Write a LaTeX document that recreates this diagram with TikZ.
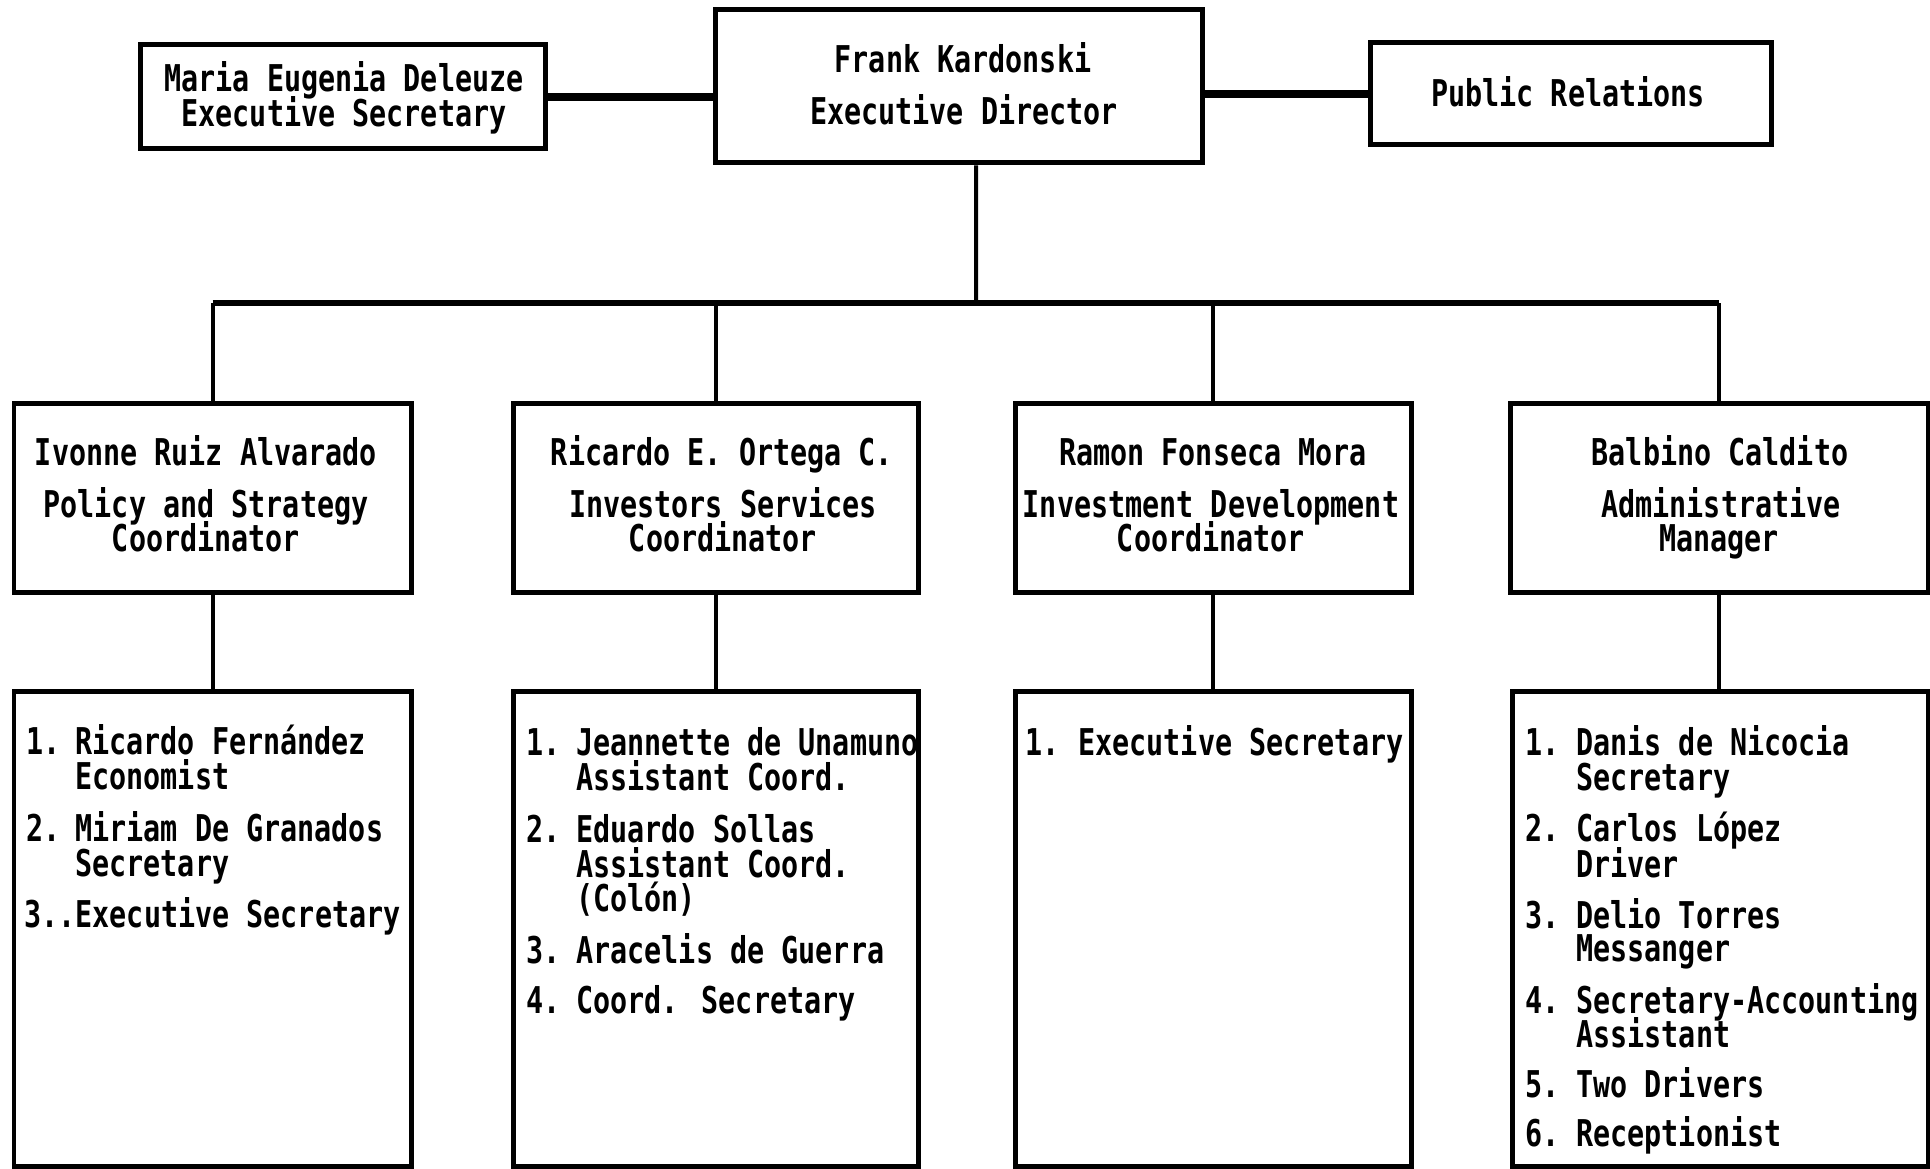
\documentclass[tikz,border=0pt]{standalone}
\usepackage{fontspec}
\setmainfont{DejaVu Sans Mono}[FakeStretch=0.77]
\usetikzlibrary{fit}
\begin{document}
\begin{tikzpicture}[x=0.02cm, y=-0.02cm,
  box/.style={draw, line width=0.1cm, inner sep=0pt},
  txt/.style={inner sep=0pt, font=\fontsize{21}{25}\selectfont\bfseries},
  toplink/.style={line width=0.17cm},
  link/.style={line width=0.08cm},
  buslink/.style={line width=0.11cm}]
\useasboundingbox (0,0) rectangle (1930,1169);

% top row
\node[box, fit={(140,45) (545,149)}] (maria) {};
\node[box, fit={(715,10) (1202,163)}] (frank) {};
\node[box, fit={(1370,43) (1771,145)}] (pr) {};

\node[txt, anchor=base] (mariaA) at (344,92) {Maria Eugenia Deleuze};
\node[txt, anchor=base] (mariaB) at (344,127) {Executive Secretary};
\node[txt, anchor=base] (frankA) at (963,73) {Frank Kardonski};
\node[txt, anchor=base] (frankB) at (964,125) {Executive Director};
\node[txt, anchor=base] (prA) at (1568,107) {Public Relations};

% middle row
\node[box, fit={(14,403) (411,592)}] (m1) {};
\node[box, fit={(513,403) (918,592)}] (m2) {};
\node[box, fit={(1015,403) (1411,592)}] (m3) {};
\node[box, fit={(1510,403) (1928,592)}] (m4) {};

\node[txt, anchor=base] (m1a) at (206,465) {Ivonne Ruiz Alvarado};
\node[txt, anchor=base] (m1b) at (206,517) {Policy and Strategy};
\node[txt, anchor=base] (m1c) at (206,551) {Coordinator};
\node[txt, anchor=base] (m2a) at (722,465) {Ricardo E. Ortega C.};
\node[txt, anchor=base] (m2b) at (723,517) {Investors Services};
\node[txt, anchor=base] (m2c) at (723,551) {Coordinator};
\node[txt, anchor=base] (m3a) at (1213,465) {Ramon Fonseca Mora};
\node[txt, anchor=base] (m3b) at (1211,517) {Investment Development};
\node[txt, anchor=base] (m3c) at (1211,551) {Coordinator};
\node[txt, anchor=base] (m4a) at (1720,465) {Balbino Caldito};
\node[txt, anchor=base] (m4b) at (1721,517) {Administrative};
\node[txt, anchor=base] (m4c) at (1719,551) {Manager};

% bottom row
\node[box, fit={(14,691) (411,1166)}] (b1) {};
\node[box, fit={(513,691) (918,1166)}] (b2) {};
\node[box, fit={(1015,691) (1411,1166)}] (b3) {};
\node[box, fit={(1512,691) (1928,1166)}] (b4) {};

% box 1 items
\node[txt, anchor=base west] (b1n1) at (26,754) {1.};
\node[txt, anchor=base west] (b1t1) at (75,754) {Ricardo Fernández};
\node[txt, anchor=base west] (b1s1) at (75,789) {Economist};
\node[txt, anchor=base west] (b1n2) at (26,841) {2.};
\node[txt, anchor=base west] (b1t2) at (75,841) {Miriam De Granados};
\node[txt, anchor=base west] (b1s2) at (75,876) {Secretary};
\node[txt, anchor=base west] (b1t3) at (24,927) {3..Executive Secretary};

% box 2 items
\node[txt, anchor=base west] (b2n1) at (526,755) {1.};
\node[txt, anchor=base west] (b2t1) at (576,755) {Jeannette de Unamuno};
\node[txt, anchor=base west] (b2s1) at (576,790) {Assistant Coord.};
\node[txt, anchor=base west] (b2n2) at (526,842) {2.};
\node[txt, anchor=base west] (b2t2) at (576,842) {Eduardo Sollas};
\node[txt, anchor=base west] (b2s2) at (576,877) {Assistant Coord.};
\node[txt, anchor=base west] (b2u2) at (576,911) {(Colón)};
\node[txt, anchor=base west] (b2n3) at (526,963) {3.};
\node[txt, anchor=base west] (b2t3) at (576,963) {Aracelis de Guerra};
\node[txt, anchor=base west] (b2n4) at (526,1013) {4.};
\node[txt, anchor=base west] (b2t4) at (576,1013) {Coord. Secretary};

% box 3 items
\node[txt, anchor=base west] (b3n1) at (1025,755) {1.};
\node[txt, anchor=base west] (b3t1) at (1078,755) {Executive Secretary};

% box 4 items
\node[txt, anchor=base west] (b4n1) at (1525,755) {1.};
\node[txt, anchor=base west] (b4t1) at (1576,755) {Danis de Nicocia};
\node[txt, anchor=base west] (b4s1) at (1576,790) {Secretary};
\node[txt, anchor=base west] (b4n2) at (1525,841) {2.};
\node[txt, anchor=base west] (b4t2) at (1576,841) {Carlos López};
\node[txt, anchor=base west] (b4s2) at (1576,877) {Driver};
\node[txt, anchor=base west] (b4n3) at (1525,928) {3.};
\node[txt, anchor=base west] (b4t3) at (1576,928) {Delio Torres};
\node[txt, anchor=base west] (b4s3) at (1576,961) {Messanger};
\node[txt, anchor=base west] (b4n4) at (1525,1013) {4.};
\node[txt, anchor=base west] (b4t4) at (1576,1013) {Secretary-Accounting};
\node[txt, anchor=base west] (b4s4) at (1576,1047) {Assistant};
\node[txt, anchor=base west] (b4n5) at (1525,1097) {5.};
\node[txt, anchor=base west] (b4t5) at (1576,1097) {Two Drivers};
\node[txt, anchor=base west] (b4n6) at (1525,1146) {6.};
\node[txt, anchor=base west] (b4t6) at (1576,1146) {Receptionist};

% connectors
\draw[toplink] (maria.east) -- (maria.east -| frank.west);
\draw[toplink] (pr.west) -- (pr.west -| frank.east);
\coordinate (bus) at (976,303);
\draw[link] ([xshift=0.35cm]frank.south) -- (bus);
\draw[buslink] (m1.north |- bus) -- (m4.north |- bus);
\draw[link] (m1.north |- bus) -- (m1.north);
\draw[link] (m2.north |- bus) -- (m2.north);
\draw[link] (m3.north |- bus) -- (m3.north);
\draw[link] (m4.north |- bus) -- (m4.north);
\draw[link] (m1.south) -- (m1.south |- b1.north);
\draw[link] (m2.south) -- (m2.south |- b2.north);
\draw[link] (m3.south) -- (m3.south |- b3.north);
\draw[link] (m4.south) -- (m4.south |- b4.north);
\end{tikzpicture}
\end{document}
